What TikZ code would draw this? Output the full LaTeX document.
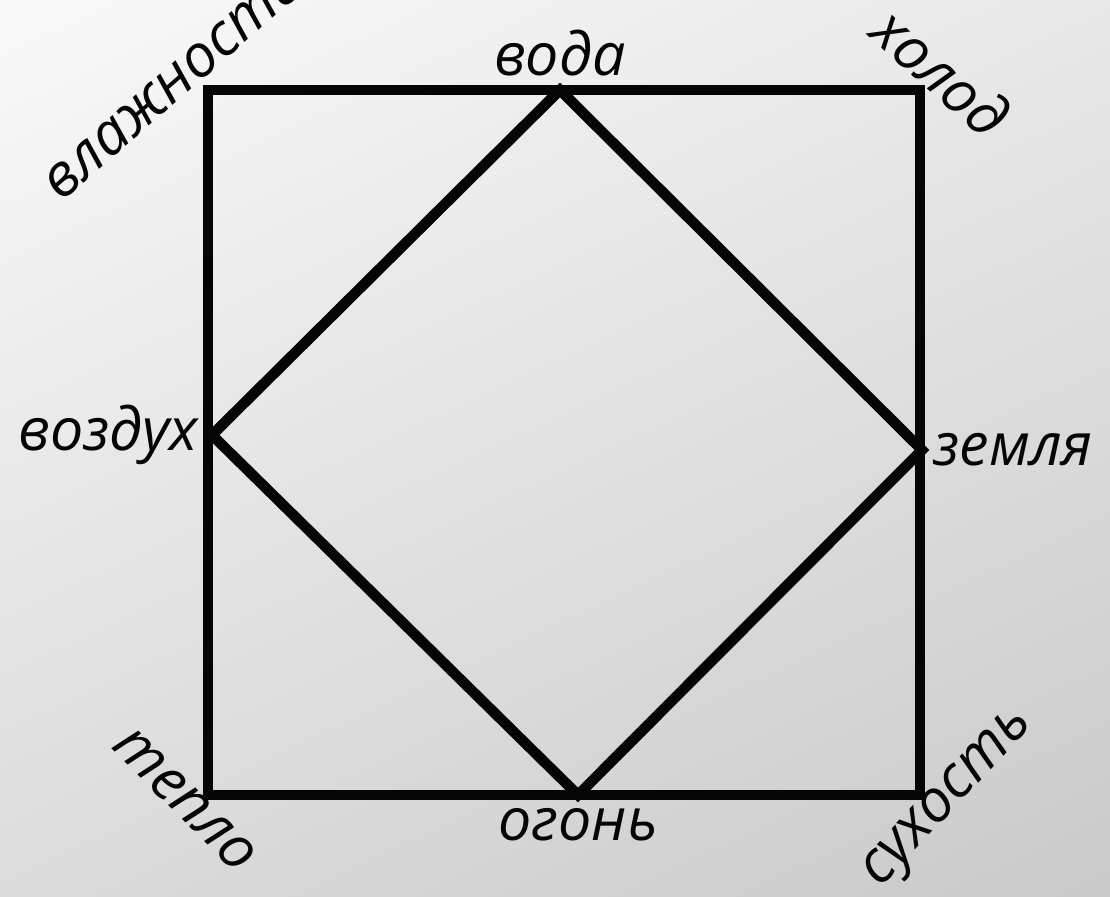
\documentclass[tikz,border=0pt]{standalone}
\usepackage{fontspec}
\setmainfont{Open Sans}
\usepackage{tikz}
\usetikzlibrary{calc}
\definecolor{elemLine}{HTML}{050505}
\definecolor{elemBgTop}{HTML}{FBFBFB}
\definecolor{elemBgBot}{HTML}{C8C8C8}
\tikzset{
  elemframe/.style={line width=7.5pt,draw=elemLine,line join=miter},
  elemlabel/.style={font=\fontsize{42}{46}\selectfont\itshape,text=elemLine,
                    inner sep=1pt},
  elemquality/.style={elemlabel}
}

\begin{document}
\begin{tikzpicture}[x=0.025cm,y=-0.025cm]
    \useasboundingbox (0,0) rectangle (1110,896);
    \clip (0,0) rectangle (1110,896);
    \shade[shading=axis,top color=elemBgTop,bottom color=elemBgBot,
           shading angle=25] (-200,-200) rectangle (1310,1096);

    % corners of the square
    \coordinate (nw) at (208,90);
    \coordinate (ne) at (920,90);
    \coordinate (se) at (920,795);
    \coordinate (sw) at (208,795);
    % vertices of the diamond
    \coordinate (water) at (560,90);
    \coordinate (air) at (212,435);
    \coordinate (earth) at (922,450);
    \coordinate (fire) at (578,795);

    \draw[elemframe] (nw) -- (ne) -- (se) -- (sw) -- cycle;
    \draw[elemframe] (water) -- (earth) -- (fire) -- (air) -- cycle;

    % elements
    \node[elemlabel,anchor=south] (lwater) at ($(water)+(0,-12)$) {вода};
    \node[elemlabel,anchor=east] (lair) at ($(air)+(-12,0)$) {воздух};
    \node[elemlabel,anchor=west] (learth) at ($(earth)+(10,0)$) {земля};
    \node[elemlabel,anchor=north] (lfire) at ($(fire)+(0,12)$) {огонь};

    % qualities
    \node[elemquality,rotate=41,anchor=south west] (lwet)
      at (62,205) {влажность};
    \node[elemquality,rotate=-42] (lcold) at (942,72) {холод};
    \node[elemquality,rotate=-45] (lwarm) at (185,800) {тепло};
    \node[elemquality,rotate=47] (ldry) at (950,800) {сухость};
  \end{tikzpicture}
\end{document}
